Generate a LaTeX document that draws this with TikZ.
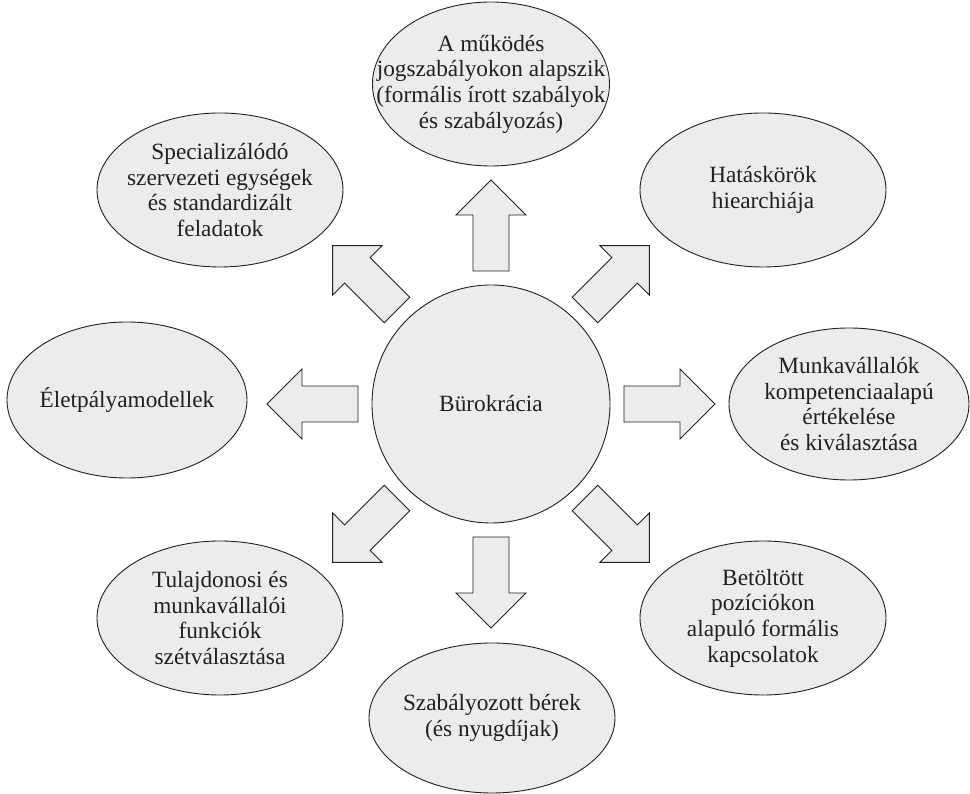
\documentclass[tikz,border=0pt]{standalone}
\usepackage{fontspec}
\setmainfont{Liberation Serif}
\usetikzlibrary{shapes.geometric}

\definecolor{bubblefill}{RGB}{236,236,236}
\definecolor{ink}{RGB}{35,31,32}

\begin{document}
\begin{tikzpicture}[x=1pt,y=1pt,
  bubble/.style={ellipse,draw=ink,fill=bubblefill,line width=0.9pt,inner sep=0pt},
  bubbletext/.style={align=center,text=ink,inner sep=0pt,font=\fontsize{23.3}{25.7}\selectfont},
  blockarrow/.style={draw=ink,fill=bubblefill,line width=0.9pt,line join=miter}]

  \useasboundingbox (-491,-390) rectangle (479,404);

  % centre
  \node[bubble,circle,minimum size=238,bubbletext] (buro) at (0,0) {Bürokrácia};

  % the eight arrows around the centre
  \foreach \a in {0,45,...,315}
    \draw[blockarrow,shift={(buro.center)},rotate=\a]
      (133,-18) -- (189,-18) -- (189,-35) -- (224,0) -- (189,35) -- (189,18) -- (133,18) -- cycle;

  % outer ellipses
  \node[bubble,minimum width=237,minimum height=164] (mukodes) at (0,320) {};
  \node[bubble,minimum width=246,minimum height=154] (hataskor) at (272,214) {};
  \node[bubble,minimum width=240,minimum height=152] (munkavall) at (358,0) {};
  \node[bubble,minimum width=246,minimum height=154] (betoltott) at (272,-214) {};
  \node[bubble,minimum width=246,minimum height=150] (berek) at (1,-314) {};
  \node[bubble,minimum width=246,minimum height=154] (tulajdon) at (-271,-214) {};
  \node[bubble,minimum width=240,minimum height=156] (eletpalya) at (-364,4) {};
  \node[bubble,minimum width=246,minimum height=154] (special) at (-271,214) {};

  \node[bubbletext] (mukodes-t) at (mukodes) {A működés\\jogszabályokon alapszik\\(formális írott szabályok\\és szabályozás)};
  \node[bubbletext] (hataskor-t) at (hataskor) {Hatáskörök\\hiearchiája};
  \node[bubbletext] (munkavall-t) at (munkavall) {Munkavállalók\\kompetenciaalapú\\értékelése\\és kiválasztása};
  \node[bubbletext] (betoltott-t) at (betoltott) {Betöltött\\pozíciókon\\alapuló formális\\kapcsolatok};
  \node[bubbletext] (berek-t) at (berek) {Szabályozott bérek\\(és nyugdíjak)};
  \node[bubbletext] (tulajdon-t) at (tulajdon) {Tulajdonosi és\\munkavállalói\\funkciók\\szétválasztása};
  \node[bubbletext] (eletpalya-t) at (eletpalya) {Életpályamodellek};
  \node[bubbletext] (special-t) at (special) {Specializálódó\\szervezeti egységek\\és standardizált\\feladatok};
\end{tikzpicture}
\end{document}
